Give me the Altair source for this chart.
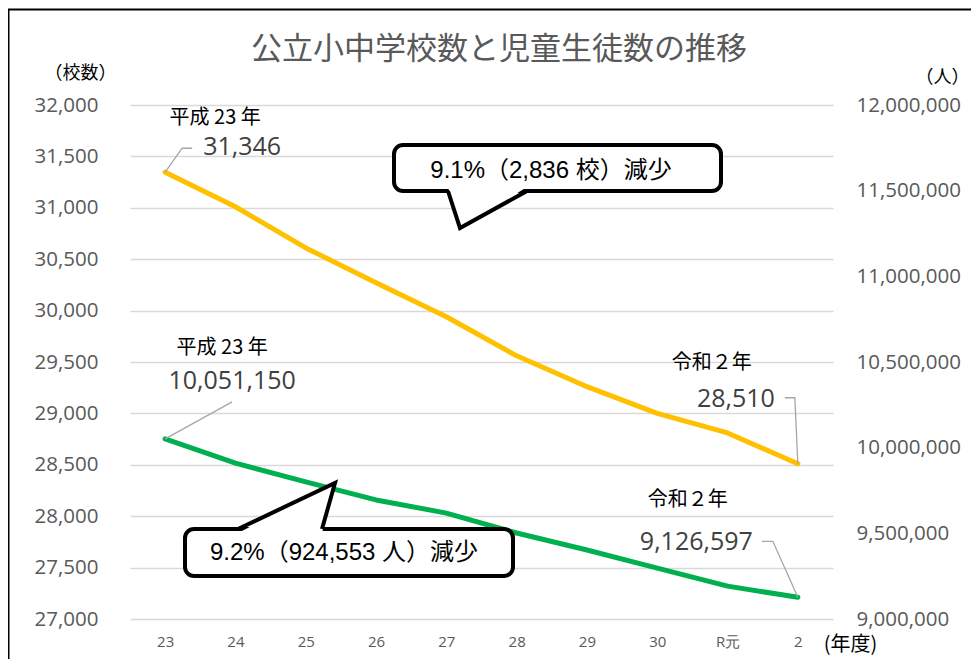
import altair as alt
import pandas as pd

# ---------------- data ----------------
years = ["23", "24", "25", "26", "27", "28", "29", "30", "R元", "2"]
schools = [31346, 31010, 30610, 30270, 29940, 29560, 29260, 29000, 28810, 28510]
students = [10051150, 9910000, 9800000, 9695000, 9618000, 9502000, 9403000, 9297000, 9192000, 9126597]

school_ticks = list(range(27000, 32001, 500))
student_ticks = list(range(9000000, 12000001, 500000))

title_text = "公立小中学校数と児童生徒数の推移"
callout_school = "9.1%（2,836 校）減少"
callout_student = "9.2%（924,553 人）減少"
era_start = "平成 23 年"
era_end = "令和２年"

# ---------------- layout ----------------
W, H = 703, 514
SCH_DOM = [27000, 32000]
STU_DOM = [9000000, 12000000]
N = len(years)

NUM_FONT = "Open Sans"
JP_FONT = "Noto Sans CJK JP"
GRAY = "#595959"
AX_FS = 20.5


def px(i):
    return (i + 0.5) / N * W


def py_s(v):
    return (SCH_DOM[1] - v) / (SCH_DOM[1] - SCH_DOM[0]) * H


def py_t(v):
    return (STU_DOM[1] - v) / (STU_DOM[1] - STU_DOM[0]) * H


df = pd.DataFrame({"i": list(range(N)), "year": years, "schools": schools, "students": students})

label_expr = "[" + ",".join("'" + y + "'" for y in years) + "][datum.value]"

x_enc = alt.X(
    "i:Q",
    scale=alt.Scale(domain=[-0.5, N - 0.5], nice=False, zero=False),
    axis=alt.Axis(
        values=list(range(N)), labelExpr=label_expr, grid=False, ticks=False, domain=False,
        labelFont=NUM_FONT, labelFontSize=15, labelColor=GRAY, labelPadding=15,
        title="(年度)", titleFont=JP_FONT, titleFontSize=20, titleFontWeight="normal",
        titleColor="black", titleAngle=0, titleAlign="center", titleBaseline="middle",
        titleX=720, titleY=25,
    ),
)

left_axis = alt.Axis(
    values=school_ticks, format=",d", grid=True, gridColor="#d9d9d9", gridWidth=1.5,
    ticks=False, domain=False, labelFont=NUM_FONT, labelFontSize=AX_FS, labelColor=GRAY,
    labelPadding=32,
    title="（校数）", titleFont=JP_FONT, titleFontSize=18, titleFontWeight="normal",
    titleColor="black", titleAngle=0, titleAlign="center", titleBaseline="middle",
    titleX=-50, titleY=-32,
)
right_axis = alt.Axis(
    orient="right", values=student_ticks, format=",d", grid=False,
    ticks=False, domain=False, labelFont=NUM_FONT, labelFontSize=AX_FS, labelColor=GRAY,
    labelPadding=23,
    title="（人）", titleFont=JP_FONT, titleFontSize=18, titleFontWeight="normal",
    titleColor="black", titleAngle=0, titleAlign="center", titleBaseline="middle",
    titleX=109, titleY=-28,
)

base = alt.Chart(df)
school_line = base.mark_line(color="#FFC000", strokeWidth=5, strokeCap="round", strokeJoin="round").encode(
    x=x_enc,
    y=alt.Y("schools:Q", scale=alt.Scale(domain=SCH_DOM, nice=False, zero=False), axis=left_axis),
)
student_line = base.mark_line(color="#00B050", strokeWidth=5, strokeCap="round", strokeJoin="round").encode(
    x=x_enc,
    y=alt.Y("students:Q", scale=alt.Scale(domain=STU_DOM, nice=False, zero=False), axis=right_axis),
)

PX = lambda f: alt.X(f, scale=None, axis=None)
PY = lambda f: alt.Y(f, scale=None, axis=None)

# anchor points (first / last values of each series)
P1 = (px(0), py_s(schools[0]))
P2 = (px(0), py_t(students[0]))
P3 = (px(N - 1), py_s(schools[-1]))
P4 = (px(N - 1), py_t(students[-1]))


def off(p, dx, dy):
    return (p[0] + dx, p[1] + dy)


# leader lines
lead_rows = []
for g, pts in enumerate([
    [P1, off(P1, 17, -24), off(P1, 27, -24)],
    [P2, off(P2, 67, -37)],
    [P3, off(P3, -3, -66), off(P3, -13, -66)],
    [P4, off(P4, -25, -56), off(P4, -36, -56)],
]):
    for k, (a, b) in enumerate(pts):
        lead_rows.append({"x": a, "y": b, "g": g, "o": k})
leaders = alt.Chart(pd.DataFrame(lead_rows)).mark_line(color="#A6A6A6", strokeWidth=1.3).encode(
    x=PX("x:Q"), y=PY("y:Q"), detail="g:N", order="o:Q"
)

# era labels
era_df = pd.DataFrame([
    dict(zip(["x", "y"], off(P1, 50, -54)), t=era_start),
    dict(zip(["x", "y"], off(P2, 57, -91)), t=era_start),
    dict(zip(["x", "y"], off(P3, -86, -101)), t=era_end),
    dict(zip(["x", "y"], off(P4, -110, -97)), t=era_end),
])
era_text = alt.Chart(era_df).mark_text(font=JP_FONT, fontSize=20, color="black", align="center", baseline="middle").encode(
    x=PX("x:Q"), y=PY("y:Q"), text="t:N"
)

VAL_COLOR = "#404040"
v_left = alt.Chart(pd.DataFrame([dict(zip(["x", "y"], off(P1, 38, -25)), t=f"{schools[0]:,}")])).mark_text(
    font=NUM_FONT, fontSize=25, color=VAL_COLOR, align="left", baseline="middle").encode(x=PX("x:Q"), y=PY("y:Q"), text="t:N")
v_center = alt.Chart(pd.DataFrame([dict(zip(["x", "y"], off(P2, 67, -58)), t=f"{students[0]:,}")])).mark_text(
    font=NUM_FONT, fontSize=25, color=VAL_COLOR, align="center", baseline="middle").encode(x=PX("x:Q"), y=PY("y:Q"), text="t:N")
v_right = alt.Chart(pd.DataFrame([
    dict(zip(["x", "y"], off(P3, -23, -65)), t=f"{schools[-1]:,}"),
    dict(zip(["x", "y"], off(P4, -45, -55)), t=f"{students[-1]:,}"),
])).mark_text(font=NUM_FONT, fontSize=25, color=VAL_COLOR, align="right", baseline="middle").encode(
    x=PX("x:Q"), y=PY("y:Q"), text="t:N")

# callouts
box_df = pd.DataFrame([
    {"x": 264, "x2": 591, "y": 40, "y2": 86},
    {"x": 55, "x2": 383, "y": 424, "y2": 471},
])
boxes = alt.Chart(box_df).mark_rect(fill="white", stroke="black", strokeWidth=4, cornerRadius=9).encode(
    x=PX("x:Q"), x2="x2:Q", y=PY("y:Q"), y2="y2:Q"
)
tail_fill_df = pd.DataFrame([
    {"g": 0, "y": 82, "x": 318, "x2": 397},
    {"g": 0, "y": 123, "x": 330, "x2": 330},
    {"g": 1, "y": 428, "x": 108, "x2": 192},
    {"g": 1, "y": 378, "x": 205, "x2": 205},
])
tail_fill = alt.Chart(tail_fill_df).mark_area(fill="white", orient="horizontal", opacity=1).encode(
    y=PY("y:Q"), x=PX("x:Q"), x2="x2:Q", detail="g:N"
)
tail_edge_df = pd.DataFrame([
    {"g": 0, "o": 0, "x": 318, "y": 86}, {"g": 0, "o": 1, "x": 330, "y": 123}, {"g": 0, "o": 2, "x": 397, "y": 86},
    {"g": 1, "o": 0, "x": 108, "y": 424}, {"g": 1, "o": 1, "x": 205, "y": 378}, {"g": 1, "o": 2, "x": 192, "y": 424},
])
tail_edge = alt.Chart(tail_edge_df).mark_line(color="black", strokeWidth=4, strokeJoin="miter").encode(
    x=PX("x:Q"), y=PY("y:Q"), detail="g:N", order="o:Q"
)
call_text = alt.Chart(pd.DataFrame([
    {"x": 421, "y": 66, "t": callout_school},
    {"x": 214, "y": 448, "t": callout_student},
])).mark_text(font="Liberation Sans, Noto Sans CJK JP", fontSize=24, color="black", align="center", baseline="middle").encode(
    x=PX("x:Q"), y=PY("y:Q"), text="t:N"
)

title = alt.Chart(pd.DataFrame({"t": [title_text]})).mark_text(
    font=JP_FONT, fontSize=31, color=GRAY, align="center", baseline="middle"
).encode(x=alt.value(369), y=alt.value(-55), text="t:N")

frame = alt.Chart(pd.DataFrame({"a": [0]})).mark_rect(fill=None, stroke="black", strokeWidth=2).encode(
    x=alt.value(-121.5), y=alt.value(-95.5), x2=alt.value(1200), y2=alt.value(1200)
)

chart = alt.layer(
    school_line, student_line, frame, title, leaders, era_text, v_left, v_center, v_right,
    boxes, tail_fill, tail_edge, call_text,
).resolve_scale(y="independent").properties(
    width=W, height=H,
    autosize=alt.AutoSizeParams(type="none"),
    padding={"left": 122, "top": 97, "right": 138, "bottom": 40},
    background="white",
).configure_view(stroke=None)

chart.save("out.html", embed_options={"renderer": "svg", "actions": False})
